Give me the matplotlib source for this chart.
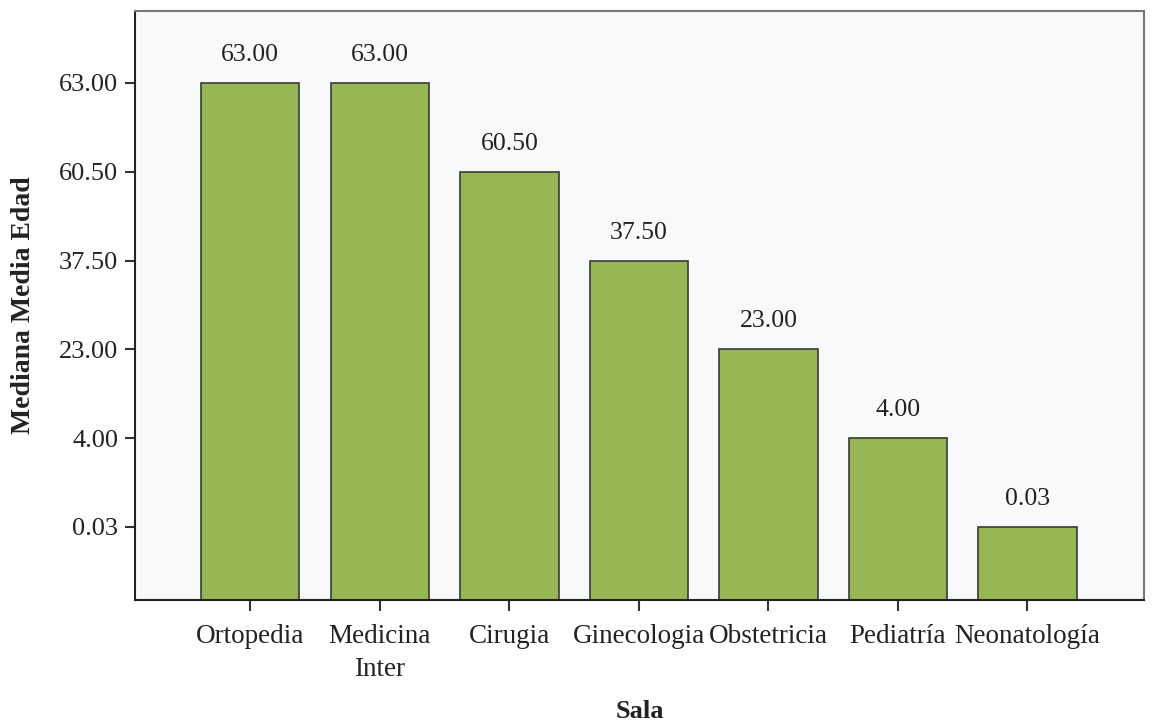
import matplotlib
matplotlib.use("Agg")
import matplotlib.pyplot as plt

plt.rcParams['font.family'] = ['Liberation Serif', 'DejaVu Serif']

# Data: the value axis is categorical (ranked), so each bar sits at the rank of its label
salas = ["Ortopedia", "Medicina\nInter", "Cirugia", "Ginecologia", "Obstetricia", "Pediatría", "Neonatología"]
medianas = [63.00, 63.00, 60.50, 37.50, 23.00, 4.00, 0.03]
niveles = [0.03, 4.00, 23.00, 37.50, 60.50, 63.00]  # y tick labels, bottom to top

bar_color = "#97b755"
bg = "#f8f9fa"

fig = plt.figure(figsize=(11.71, 7.28), dpi=100)
fig.patch.set_facecolor("white")

# light grey panel behind the chart
bg_ax = fig.add_axes([95 / 1171, 1 - 693 / 728, 1 - 95 / 1171, (693 - 5) / 728], zorder=-1)
bg_ax.set_facecolor(bg)
bg_ax.axis("off")
bg_ax.patch.set_visible(True)

ax = fig.add_axes([135 / 1171, 1 - 600 / 728, (1144 - 135) / 1171, (600 - 11) / 728], zorder=1)
ax.set_facecolor(bg)

rank = {v: i + 1 for i, v in enumerate(niveles)}
xs = range(len(salas))
heights = [rank[v] for v in medianas]
ax.bar(xs, heights, width=0.76, color=bar_color, edgecolor="#3a3a3a", linewidth=1.2, zorder=2)

for x, h, v in zip(xs, heights, medianas):
    ax.text(x, h + 0.19, f"{v:.2f}", ha="center", va="bottom", fontsize=18.5, color="#222222")

ax.set_xlim(-0.89, 6.9)
ax.set_ylim(0.178, 6.81)
ax.set_xticks(list(xs))
ax.set_xticklabels(salas, fontsize=19.5, color="#222222", linespacing=1.45)
ax.set_yticks(range(1, len(niveles) + 1))
ax.set_yticklabels([f"{v:.2f}" for v in niveles], fontsize=19, color="#222222")
ax.tick_params(axis="x", length=8, width=1.5, pad=9, color="#333333")
ax.tick_params(axis="y", length=7, width=1.5, pad=5, color="#333333")

for side in ["left", "bottom"]:
    ax.spines[side].set_color("#222222")
    ax.spines[side].set_linewidth(1.5)
for side in ["top", "right"]:
    ax.spines[side].set_color("#777777")
    ax.spines[side].set_linewidth(1.5)

fig.text((135 + 1144) / 2 / 1171, 1 - 712 / 728, "Sala", ha="center", va="center",
         fontsize=19, fontweight="bold", color="#222222")
fig.text(24 / 1171, 1 - 305 / 728, "Mediana Media Edad", ha="center", va="center",
         rotation=90, fontsize=20, fontweight="bold", color="#222222")

fig.savefig("out.png", dpi=100, facecolor="white")
